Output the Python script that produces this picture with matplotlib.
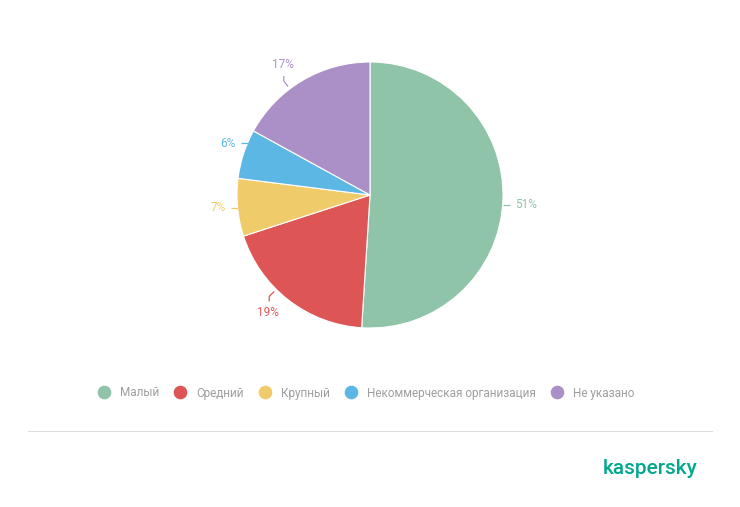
import numpy as np
import matplotlib
matplotlib.use("Agg")
import matplotlib.pyplot as plt
from matplotlib.lines import Line2D

categories = ["Малый", "Средний", "Крупный", "Некоммерческая организация", "Не указано"]
values = [51, 19, 7, 6, 17]
colors = ["#8FC4A9", "#DD5555", "#F0CB69", "#5DB7E4", "#AB90C7"]

# label layout: angle nudge (deg) for connector and connector style
label_nudge = [-2.5, -7, 0, -5, 6.5]
label_style = ['h', 'v', 'h', 'h', 'v']

plt.rcParams['font.family'] = ['Roboto', 'DejaVu Sans']

W, H = 740, 507
fig = plt.figure(figsize=(W / 100, H / 100), dpi=100)
ax = fig.add_axes([0, 0, 1, 1])
ax.axis('off')

cx, cy, R = 370, H - 195, 133
wedges, _ = ax.pie(values, colors=colors, startangle=90, counterclock=False,
                   radius=R, center=(cx, cy),
                   wedgeprops=dict(edgecolor='white', linewidth=0.8))
ax.set_xlim(0, W)
ax.set_ylim(0, H)
ax.set_aspect('equal')

for w, v, c, nd, st in zip(wedges, values, colors, label_nudge, label_style):
    ang = np.deg2rad((w.theta1 + w.theta2) / 2 + nd)
    if st == 'h':
        x0, y0 = cx + R * np.cos(ang), cy + R * np.sin(ang)
        side = 1 if np.cos(ang) >= 0 else -1
        x1 = x0 + side * 7
        ax.plot([x0, x1], [y0, y0], color=c, lw=0.9, solid_capstyle='butt')
        ax.text(x1 + side * 5, y0, f"{v}%", color=c, fontsize=8.5,
                ha='left' if side > 0 else 'right', va='center')
    else:
        r0 = R + 3
        x0, y0 = cx + r0 * np.cos(ang), cy + r0 * np.sin(ang)
        vs = 1 if np.sin(ang) >= 0 else -1
        x1, y1 = x0 + 7 * np.cos(ang), y0 + 7 * np.sin(ang)
        y2 = y1 + vs * 5
        ax.plot([x0, x1, x1], [y0, y1, y2], color=c, lw=0.9, solid_capstyle='butt')
        ax.text(x1 - 1, y2 + vs * 5, f"{v}%", color=c, fontsize=8.5,
                ha='center', va='bottom' if vs > 0 else 'top')

handles = [Line2D([], [], marker='o', linestyle='none', markersize=8.8,
                  markerfacecolor=c, markeredgecolor=c) for c in colors]
leg = fig.legend(handles, categories, loc='center', bbox_to_anchor=(366 / W, 1 - 393 / H),
                 ncol=5, frameon=False, fontsize=8.5, handletextpad=0.85,
                 columnspacing=1.3, labelcolor='#9E9E9E', handlelength=1.0)

fig.add_artist(Line2D([28 / W, 712 / W], [1 - 431 / H, 1 - 431 / H],
                      color='#DDDDDD', lw=0.8))
fig.text(697 / W, 1 - 468 / H, "kaspersky", color='#00A88E', fontsize=15,
         fontweight='medium', ha='right', va='center')

fig.savefig("out.png", dpi=100, facecolor='white')
